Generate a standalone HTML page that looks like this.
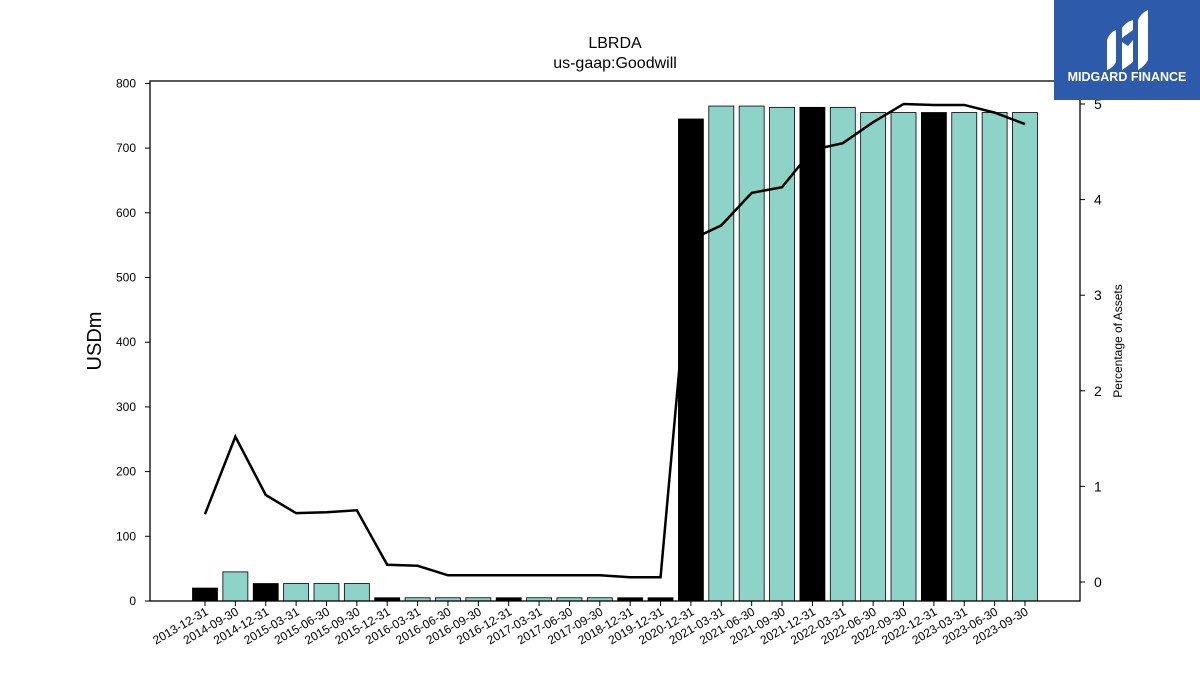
<!DOCTYPE html>
<html><head><meta charset="utf-8"><style>
body{margin:0;background:#fff;}
svg{display:block;font-family:"Liberation Sans","DejaVu Sans",sans-serif;}
</style></head><body>
<svg id="chart" width="1200" height="675">
<text x="615" y="48" text-anchor="middle" font-size="16">LBRDA</text>
<text x="615" y="68" text-anchor="middle" font-size="16">us-gaap:Goodwill</text>
<g id="bars"></g><g id="line"></g>
<rect x="150" y="81" width="930" height="520" fill="none" stroke="#000" stroke-width="1.3"/>
<g id="axes"></g>
<text x="0" y="0" transform="translate(101,341) rotate(-90)" text-anchor="middle" font-size="20">USDm</text>
<text x="0" y="0" transform="translate(1122,341) rotate(-90)" text-anchor="middle" font-size="12">Percentage of Assets</text>
<g>
<rect x="1054" y="0" width="146" height="100" fill="#2d5aab"/>
<path d="M1107 70 L1107 40 Q1110 32 1116 30 L1116 62 Q1113 68 1107 70Z" fill="#fff"/>
<path d="M1122 70 L1122 42 L1128 46 L1133 40 L1133 62 Q1128 66 1122 70Z" fill="#fff"/>
<path d="M1122 38 L1122 28 Q1126 22 1133 20 L1133 30Z" fill="#fff"/>
<path d="M1138 70 L1138 20 Q1141 13 1148 10 L1148 60 Q1145 66 1138 70Z" fill="#fff"/>
<text x="1127" y="81" text-anchor="middle" font-size="12.5" font-weight="bold" fill="#fff">MIDGARD FINANCE</text>
</g>
</svg>
<script>
const categories=["2013-12-31","2014-09-30","2014-12-31","2015-03-31","2015-06-30","2015-09-30","2015-12-31","2016-03-31","2016-06-30","2016-09-30","2016-12-31","2017-03-31","2017-06-30","2017-09-30","2018-12-31","2019-12-31","2020-12-31","2021-03-31","2021-06-30","2021-09-30","2021-12-31","2022-03-31","2022-06-30","2022-09-30","2022-12-31","2023-03-31","2023-06-30","2023-09-30"];
const goodwill=[20,45,27,27,27,27,5,5,5,5,5,5,5,5,5,5,745,765,765,763,763,763,755,755,755,755,755,755];
const pctAssets=[0.71,1.52,0.91,0.72,0.73,0.75,0.18,0.17,0.07,0.07,0.07,0.07,0.07,0.07,0.05,0.05,3.58,3.73,4.07,4.13,4.52,4.59,4.81,5.0,4.99,4.99,4.91,4.79];
const leftTicks=[0,100,200,300,400,500,600,700,800];
const rightTicks=[0,1,2,3,4,5];
const NS="http://www.w3.org/2000/svg";
const xs=i=>205+i*(1025-205)/27;
const yl=v=>601-v*(517.6/800);
const yr=v=>582-v*95.6;
function mk(t,a,p){const e=document.createElementNS(NS,t);for(const k in a)e.setAttribute(k,a[k]);p.appendChild(e);return e;}
const bars=document.getElementById('bars'),line=document.getElementById('line'),axes=document.getElementById('axes');
categories.forEach((c,i)=>{
 const ye=c.endsWith('12-31');
 const r=mk('rect',{x:xs(i)-12.5,y:yl(goodwill[i]),width:25,height:601-yl(goodwill[i]),fill:ye?'#000':'#8dd3c7',stroke:'#000','stroke-width':0.8},bars);
 
 
 const tk=mk('line',{x1:xs(i),x2:xs(i),y1:601,y2:606,stroke:'#000'},axes);
 
 
 const t=mk('text',{x:0,y:0,transform:`translate(${xs(i)+4},${614}) rotate(-30)`,'text-anchor':'end','font-size':12},axes);
 t.textContent=c;
 
 
});
const pl=mk('polyline',{points:pctAssets.map((v,i)=>xs(i)+','+yr(v)).join(' '),fill:'none',stroke:'#000','stroke-width':2.5},line);


leftTicks.forEach(v=>{
 const l=mk('line',{x1:145,x2:150,y1:yl(v),y2:yl(v),stroke:'#000'},axes);
 
 
 const t=mk('text',{x:136,y:yl(v)+4,'text-anchor':'end','font-size':12},axes);
 t.textContent=v;
 
 
});
rightTicks.forEach(v=>{
 const l=mk('line',{x1:1080,x2:1085,y1:yr(v),y2:yr(v),stroke:'#000'},axes);
 
 
 const t=mk('text',{x:1094,y:yr(v)+5,'font-size':14},axes);
 t.textContent=v;
 
 
});
</script>
</body></html>
